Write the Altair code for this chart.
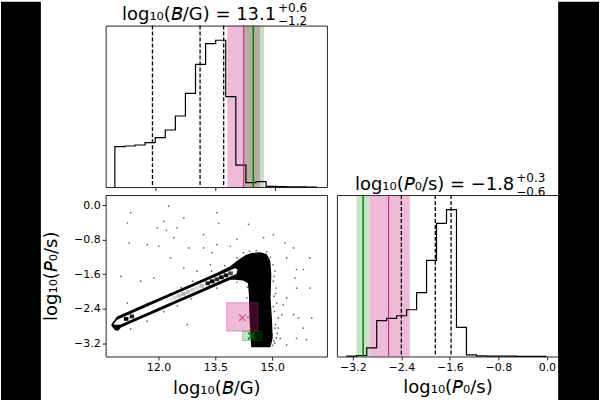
import altair as alt
import numpy as np
import pandas as pd

# ---------- marginal posterior of log10(B/G) ----------
b_bin_lo, b_bin_hi = 10.99, 16.03
b_counts = [121, 123, 126, 133, 148, 171, 213, 281, 368, 430,
            440, 271, 66, 13, 16, 2, 1, 0.5, 0.3, 0.2]
b_quant = [11.93, 13.12, 13.71]            # 16th / 50th / 84th percentiles
b_hist_domain = [10.76, 16.29]
b_joint_domain = [10.61, 16.44]
b_ticks = [12.0, 13.5, 15.0]

# ---------- marginal posterior of log10(P0/s) ----------
p_bin_lo, p_bin_hi = -3.30, -0.01
p_counts = [1, 3, 26, 108, 115, 123, 141, 193, 290, 402,
            443, 88, 5, 2, 1, 1, 1, 0.5, 0.5, 0.5]
p_quant = [-2.40, -1.84, -1.58]
p_hist_domain = [-3.463, 0.186]
p_joint_domain = [-3.51, 0.24]
p_ticks = [-3.2, -2.4, -1.6, -0.8, 0.0]

# comparison estimates: [value, lower, upper]
pink_b = [14.21, 13.80, 14.62]
pink_p = [-2.61, -2.92, -2.26]
green_b = [14.45, 14.22, 14.72]
green_p = [-3.03, -3.14, -2.92]

# ---------- joint distribution ----------
# outline of the densely sampled region
dense_x = [10.77, 10.92, 11.53, 12.14, 13.02, 13.54, 13.89, 14.11, 14.29, 14.46,
           14.68, 14.84, 14.93, 14.96, 14.94, 14.98, 14.995, 14.94, 14.46, 14.42,
           14.40, 14.375, 14.24, 14.02, 13.89, 13.54, 13.02, 12.49, 12.14, 11.53,
           11.01, 10.94, 10.87, 10.77]
dense_y = [-2.780, -2.594, -2.358, -2.122, -1.786, -1.584, -1.430, -1.283, -1.174, -1.120,
           -1.104, -1.143, -1.283, -1.609, -2.153, -2.697, -3.085, -3.280, -3.280, -2.697,
           -2.075, -1.803, -1.733, -1.712, -1.714, -1.848, -2.050, -2.252, -2.386, -2.623,
           -2.824, -2.890, -2.890, -2.780]
# outermost density contour
contour_x = [10.79, 10.92, 11.53, 12.14, 13.02, 13.54, 13.89, 14.02, 14.11, 14.07,
             13.89, 13.54, 13.02, 12.49, 12.14, 11.53, 11.01, 10.83, 10.79]
contour_y = [-2.750, -2.633, -2.397, -2.161, -1.825, -1.623, -1.489, -1.438, -1.485, -1.609,
             -1.675, -1.810, -2.011, -2.213, -2.347, -2.584, -2.785, -2.790, -2.750]
# shaded density cells inside the contour
cell_x0 = [11.09, 11.24, 12.24, 12.36, 12.48, 12.60, 12.72, 12.84,
           12.96, 13.08, 13.24, 13.36, 13.48, 13.60, 13.72, 13.84]
cell_x1 = [11.21, 11.36, 12.36, 12.48, 12.60, 12.72, 12.84, 12.96,
           13.08, 13.20, 13.36, 13.48, 13.60, 13.72, 13.84, 13.96]
cell_y0 = [-2.682, -2.624, -2.239, -2.193, -2.147, -2.101, -2.055, -2.009,
           -1.963, -1.916, -1.855, -1.809, -1.762, -1.716, -1.670, -1.624]
cell_y1 = [-2.592, -2.534, -2.149, -2.103, -2.057, -2.011, -1.965, -1.919,
           -1.873, -1.826, -1.765, -1.719, -1.672, -1.626, -1.580, -1.534]
cell_shade = ["#000000", "#222222", "#e8e8e8", "#d6d6d6", "#c4c4c4", "#b0b0b0",
              "#c0c0c0", "#cfcfcf", "#dadada", "#bdbdbd", "#1a1a1a", "#000000",
              "#2a2a2a", "#000000", "#111111", "#444444"]
# individual samples outside the dense region
sparse_x = [11.27, 12.27, 13.54, 13.59, 11.18, 12.21, 12.49, 12.14, 11.23, 11.71,
            12.01, 12.41, 12.80, 13.19, 13.41, 13.54, 13.89, 14.07, 14.77, 15.03,
            15.34, 15.56, 15.99, 15.82, 15.64, 15.38, 15.60, 15.99, 15.64, 15.38,
            15.29, 15.56, 15.69, 16.04, 15.82, 15.64, 15.90, 15.21, 15.16, 15.25,
            11.01, 11.18, 11.53, 11.88, 12.32, 12.67, 13.02, 13.37, 12.76, 15.38,
            15.07, 14.375, 11.97, 12.67, 13.19,
            15.02, 15.07, 15.03, 15.10, 15.05, 15.12, 15.06, 15.16, 15.08, 15.13,
            15.04, 15.01, 15.05, 15.09, 15.03, 15.07, 15.00, 15.11,
            14.24, 14.58, 14.85, 14.07, 14.40, 14.95,
            11.71, 12.32, 12.90, 13.40, 11.20, 12.60, 13.75,
            11.27, 12.14, 12.86, 13.54, 14.07, 11.70, 12.50,
            14.33, 14.36, 14.38, 14.35]
sparse_y = [-0.17, -0.02, -0.17, -0.41, -0.41, -0.58, -0.52, -0.37, -0.87, -0.91,
            -0.95, -0.75, -0.99, -0.99, -1.10, -0.91, -0.95, -0.79, -0.75, -0.68,
            -0.87, -0.99, -1.22, -1.49, -1.49, -1.22, -1.69, -1.92, -1.92, -2.15,
            -2.31, -2.54, -2.62, -2.62, -2.85, -3.09, -3.12, -3.09, -2.85, -2.54,
            -1.65, -2.27, -1.76, -1.69, -1.22, -1.45, -1.53, -1.38, -2.77, -3.24,
            -3.20, -0.44, -0.52, -0.29, -0.68,
            -1.38, -1.53, -1.76, -1.92, -2.11, -2.27, -2.46, -2.62, -2.77, -2.97,
            -3.15, -3.25, -1.65, -2.05, -2.35, -2.85, -3.00, -3.08,
            -1.10, -1.05, -1.08, -1.22, -1.06, -1.20,
            -2.28, -2.05, -1.76, -1.53, -2.50, -1.91, -1.40,
            -2.87, -2.47, -2.17, -1.92, -1.78, -2.69, -2.34,
            -2.15, -2.60, -3.10, -1.90]

PINK = "#c51b7d"
GREEN = "#008000"
FONT = "DejaVu Sans"
W, H = 222, 162
X_MARK = "M-1,-1L1,1M-1,1L1,-1"


def step_frame(lo, hi, counts):
    edges = np.linspace(lo, hi, len(counts) + 1)
    xs = [edges[0]] + list(edges[:-1]) + [edges[-1], edges[-1]]
    ys = [0] + list(counts) + [counts[-1], 0]
    return pd.DataFrame({"x": xs, "y": ys, "k": range(len(xs))})


def num(v):
    return f"{v:.1f}".replace("-", "\u2212")


def title_parts(q):
    med, up, dn = q[1], q[2] - q[1], q[1] - q[0]
    return num(med), f"+{up:.1f}", f"\u2212{dn:.1f}"


def one(**cols):
    return pd.DataFrame({k: [v] for k, v in cols.items()})


def marginal(lo, hi, counts, quant, est_pink, est_green, domain, axis, label, title_x, title_y):
    xsc = alt.Scale(domain=domain, nice=False, zero=False)
    ysc = alt.Scale(domain=[0, 1.1 * max(counts)], nice=False, zero=True)

    def X(field):
        return alt.X(f"{field}:Q", scale=xsc, axis=axis)

    bands = [
        alt.Chart(one(lo=est_pink[1], hi=est_pink[2])).mark_rect(color=PINK, opacity=0.3)
        .encode(x=X("lo"), x2="hi"),
        alt.Chart(one(lo=est_green[1], hi=est_green[2])).mark_rect(color=GREEN, opacity=0.22)
        .encode(x=X("lo"), x2="hi"),
    ]
    hist = alt.Chart(step_frame(lo, hi, counts)).mark_line(
        color="black", strokeWidth=1.2, interpolate="step-after"
    ).encode(x=X("x"), y=alt.Y("y:Q", scale=ysc, axis=None), order="k:Q")
    dashed = alt.Chart(pd.DataFrame({"v": quant})).mark_rule(
        color="black", strokeDash=[4, 2], strokeWidth=1.3
    ).encode(x=X("v"))
    lines = [
        alt.Chart(one(v=est_pink[0])).mark_rule(color=PINK, strokeWidth=1).encode(x=X("v")),
        alt.Chart(one(v=est_green[0])).mark_rule(color=GREEN, strokeWidth=1.5).encode(x=X("v")),
    ]
    main, sup, sub = title_parts(quant)
    texts = [
        alt.Chart(one(t=f"{label} = {main}")).mark_text(
            font=FONT, fontSize=18, align="right", baseline="alphabetic", color="black"
        ).encode(text="t:N", x=alt.value(title_x), y=alt.value(title_y)),
        alt.Chart(one(t=sup)).mark_text(
            font=FONT, fontSize=12, align="left", baseline="alphabetic", color="black"
        ).encode(text="t:N", x=alt.value(title_x + 2), y=alt.value(title_y - 8)),
        alt.Chart(one(t=sub)).mark_text(
            font=FONT, fontSize=12, align="left", baseline="alphabetic", color="black"
        ).encode(text="t:N", x=alt.value(title_x + 2), y=alt.value(title_y + 5.5)),
    ]
    return bands + [hist, dashed] + lines + texts


B_LABEL = "log\u2081\u2080(\U0001D609/G)"
P_LABEL = "log\u2081\u2080(\U0001D617\u2080/s)"

# ---- top-left: log10(B/G) marginal ----
top_axis = alt.Axis(values=b_ticks, labels=False, title="", tickSize=3.5)
top_layers = marginal(b_bin_lo, b_bin_hi, b_counts, b_quant, pink_b, green_b,
                      b_hist_domain, top_axis, B_LABEL, 171, -6)
left_strip = alt.Chart(one(a=0)).mark_rect(color="black").encode(
    x=alt.value(-105), x2=alt.value(-65), y=alt.value(-24), y2=alt.value(376))
top = alt.layer(*top_layers, left_strip).properties(width=W, height=H)

# ---- top-right: empty cell ----
empty = alt.Chart(one(a=0)).mark_point(opacity=0).encode(
    x=alt.value(0), y=alt.value(0)
).properties(width=W, height=H, view=alt.ViewBackground(stroke="transparent"))

# ---- bottom-left: joint distribution ----
jx = alt.Scale(domain=b_joint_domain, nice=False, zero=False)
jy = alt.Scale(domain=p_joint_domain, nice=False, zero=False)
jx_axis = alt.Axis(values=b_ticks, format=".1f", title=B_LABEL, titleX=111, titleY=37,
                   titleAlign="center", titleBaseline="alphabetic", tickSize=3.5)
jy_axis = alt.Axis(values=p_ticks, format=".1f", title=P_LABEL, titleX=-54, titleY=81,
                   titleAngle=270, titleAlign="center", titleBaseline="middle", tickSize=3.5)


def JX(field):
    return alt.X(f"{field}:Q", scale=jx, axis=jx_axis)


def JY(field):
    return alt.Y(f"{field}:Q", scale=jy, axis=jy_axis)


samples = alt.Chart(pd.DataFrame({"x": sparse_x, "y": sparse_y})).mark_circle(
    size=3, color="black", opacity=0.6).encode(x=JX("x"), y=JY("y"))
dense = alt.Chart(pd.DataFrame({"x": dense_x, "y": dense_y, "k": range(len(dense_x))})).mark_line(
    fill="black", stroke="black", strokeWidth=1.2, strokeJoin="round"
).encode(x=JX("x"), y=JY("y"), order="k:Q")
contour = alt.Chart(pd.DataFrame({"x": contour_x, "y": contour_y, "k": range(len(contour_x))})).mark_line(
    fill="white", stroke="black", strokeWidth=1.5, strokeJoin="round"
).encode(x=JX("x"), y=JY("y"), order="k:Q")
cells = alt.Chart(pd.DataFrame({"x0": cell_x0, "x1": cell_x1, "y0": cell_y0, "y1": cell_y1,
                                "c": cell_shade})).mark_rect().encode(
    x=JX("x0"), x2="x1", y=JY("y0"), y2="y1", color=alt.Color("c:N", scale=None))
boxes = alt.Chart(pd.DataFrame({
    "x0": [pink_b[1], green_b[1]], "x1": [pink_b[2], green_b[2]],
    "y0": [pink_p[1], green_p[1]], "y1": [pink_p[2], green_p[2]],
    "c": [PINK, GREEN], "o": [0.3, 0.22]})).mark_rect(strokeWidth=1, strokeOpacity=0.35).encode(
    x=JX("x0"), x2="x1", y=JY("y0"), y2="y1",
    fill=alt.Fill("c:N", scale=None), stroke=alt.Stroke("c:N", scale=None),
    fillOpacity=alt.FillOpacity("o:Q", scale=None))
markers = alt.Chart(pd.DataFrame({"x": [pink_b[0], green_b[0]], "y": [pink_p[0], green_p[0]],
                                  "c": ["#e0529c", GREEN]})).mark_point(
    shape=X_MARK, size=45, filled=False, strokeWidth=1.3, opacity=1).encode(
    x=JX("x"), y=JY("y"), color=alt.Color("c:N", scale=None))
joint = alt.layer(samples, dense, contour, cells, boxes, markers).properties(width=W, height=H)

# ---- bottom-right: log10(P0/s) marginal ----
right_axis = alt.Axis(values=p_ticks, format=".1f", title=P_LABEL, titleX=111, titleY=36,
                      titleAlign="center", titleBaseline="alphabetic", tickSize=3.5)
right_layers = marginal(p_bin_lo, p_bin_hi, p_counts, p_quant, pink_p, green_p,
                        p_hist_domain, right_axis, P_LABEL, 178, -5)
right_strip = alt.Chart(one(a=0)).mark_rect(color="black").encode(
    x=alt.value(W), x2=alt.value(W + 41), y=alt.value(-194), y2=alt.value(206))
right = alt.layer(*right_layers, right_strip).properties(width=W, height=H)

chart = alt.concat(
    top, empty, joint, right,
    columns=2, spacing={"row": 8, "column": 10}, bounds="flush"
).properties(
    padding=0, background="white", autosize=alt.AutoSizeParams(type="pad")
).configure(font=FONT).configure_view(
    stroke="#262626", strokeWidth=1
).configure_axis(
    domain=False, grid=False, tickColor="#262626", tickWidth=1,
    labelFont=FONT, labelFontSize=11, labelColor="black", labelPadding=2,
    titleFont=FONT, titleFontSize=18, titleFontWeight="normal", titleColor="black"
)

chart.save("out.html", embed_options={"renderer": "svg", "actions": False})
